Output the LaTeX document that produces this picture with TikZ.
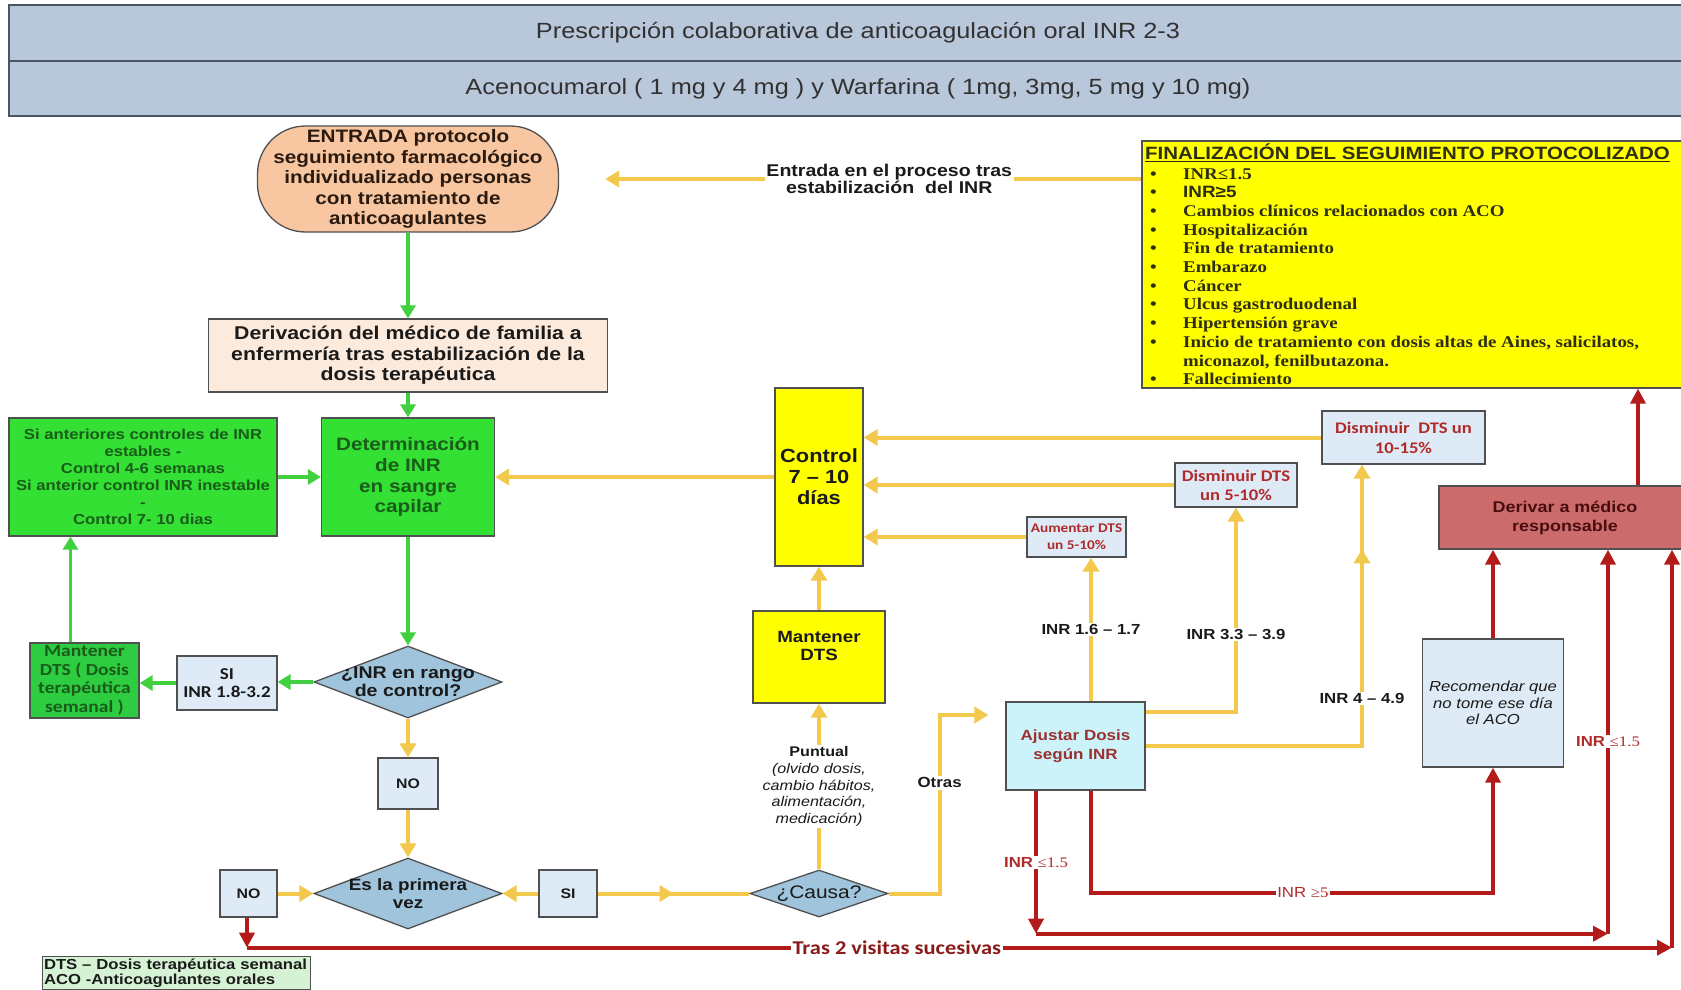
\documentclass[tikz,border=0pt]{standalone}
\usepackage{fontspec}
\setmainfont[FakeStretch=1.15]{Liberation Sans}
\newfontfamily\tnr[FakeStretch=1.15]{Liberation Serif}
\newfontfamily\clb[FakeStretch=1.15]{Carlito}
\usetikzlibrary{shapes.geometric,arrows.meta,calc,decorations.markings}
\newcommand\myfs[2]{\fontsize{#1}{#2}\selectfont}
\newcommand\blt{\makebox[33pt][l]{\textbullet}}
\definecolor{hdrfill}{HTML}{B9C7DB}
\definecolor{hdrb}{HTML}{4A5566}
\definecolor{peach}{HTML}{F8C6A0}
\definecolor{ovaltxt}{HTML}{2A1A10}
\definecolor{trastxt}{HTML}{8B1A1A}
\definecolor{derivfill}{HTML}{FCEADC}
\definecolor{grnbox}{HTML}{33E033}
\definecolor{grnbox2}{HTML}{2ECC40}
\definecolor{dkgrn}{HTML}{1A5C1A}
\definecolor{diafill}{HTML}{A0C4DC}
\definecolor{lblue}{HTML}{DEEBF7}
\definecolor{cyanbox}{HTML}{CDF3FA}
\definecolor{redbox}{HTML}{CC6B6B}
\definecolor{dkred}{HTML}{4A0D0D}
\definecolor{ylw}{HTML}{F2C94C}
\definecolor{grn}{HTML}{40D040}
\definecolor{redl}{HTML}{B31B1B}
\definecolor{redt}{HTML}{B02A2A}
\definecolor{ajred}{HTML}{9B3030}
\definecolor{lgrn}{HTML}{D5F2D5}
\definecolor{ybox}{HTML}{FFFF00}
\definecolor{bord}{HTML}{505050}
\definecolor{txt}{HTML}{1A1A1A}
\definecolor{listtxt}{HTML}{2E2E12}
\begin{document}
\begin{tikzpicture}[x=1pt, y=-1pt,
 bx/.style={draw=bord, line width=1.3pt, inner sep=2pt, align=center, text=txt},
 wh/.style 2 args={minimum width=#1pt, minimum height=#2pt},
 dia/.style={diamond, draw=bord, line width=1.3pt, fill=diafill, inner sep=0pt},
 yl/.style={color=ylw, line width=4pt, -{Triangle[length=14pt,width=16pt]}},
 yline/.style={color=ylw, line width=4pt},
 gl/.style={color=grn, line width=3.5pt, -{Triangle[length=13pt,width=15pt]}},
 rl/.style={color=redl, line width=4pt, -{Triangle[length=15pt,width=15pt]}},
 rline/.style={color=redl, line width=4pt},
 lbl/.style={fill=white, inner sep=1.5pt, text=txt, align=center},
 rlbl/.style={fill=white, inner sep=1.5pt, text=redt, align=center, font=\myfs{14.6}{16}},
 midarr/.style={postaction={decorate}, decoration={markings, mark=at position #1 with {\arrow{Triangle[length=14pt,width=16pt]}}}}
]
\useasboundingbox (0,0) rectangle (1681,989);
\fill[white] (0,0) rectangle (1681,989);

% header
\node[bx, draw=hdrb, line width=2pt, fill=hdrfill, wh={1698}{56}, font=\myfs{22}{24}, text=txt!90] (h1) at (858,33) {Prescripción colaborativa de anticoagulación oral INR 2-3};
\node[bx, draw=hdrb, line width=2pt, fill=hdrfill, wh={1698}{55}, font=\myfs{22}{24}, text=txt!90] (h2) at (858,88.5) {Acenocumarol ( 1 mg y 4 mg ) y Warfarina ( 1mg, 3mg, 5 mg y 10 mg)};

% main nodes
\node[bx, fill=peach, rounded corners=48pt, wh={301}{106}, font=\bfseries\myfs{18}{20.6}, text=ovaltxt] (oval) at (408,179) {ENTRADA protocolo\\seguimiento farmacológico\\individualizado personas\\con tratamiento de\\anticoagulantes};
\node[bx, fill=derivfill, wh={399}{73}, font=\bfseries\myfs{18.5}{20.4}] (deriv) at (408,355.5) {Derivación del médico de familia a\\enfermería tras estabilización de la\\dosis terapéutica};
\node[bx, fill=grnbox, wh={268}{118}, font=\bfseries\myfs{14.5}{17}, text=dkgrn] (leftg) at (143,477) {Si anteriores controles de INR\\estables -\\Control 4-6 semanas\\Si anterior control INR inestable\\-\\Control 7- 10 dias};
\node[bx, fill=grnbox, wh={173}{118}, font=\bfseries\myfs{18}{20.7}, text=dkgrn] (determ) at (408,477) {Determinación\\de INR\\en sangre\\capilar};
\node[bx, fill=ybox, wh={88}{178}, font=\bfseries\myfs{19}{21}] (control) at (819,477) {Control\\7 – 10\\días};
\node[bx, fill=lblue, wh={99}{40}, font=\clb\bfseries\myfs{13.3}{17}, text=redt] (aum) at (1076.5,537) {Aumentar DTS\\un 5-10\%};
\node[bx, fill=lblue, wh={122}{44}, font=\clb\bfseries\myfs{16.2}{19}, text=redt] (dis1) at (1236,485) {Disminuir DTS\\un 5-10\%};
\node[bx, fill=lblue, wh={163}{53}, font=\clb\bfseries\myfs{16.2}{20}, text=redt] (dis2) at (1403.5,437.5) {Disminuir\ \ DTS un\\10-15\%};
\node[bx, fill=redbox, wh={252}{63}, font=\bfseries\myfs{15.6}{19}, text=dkred] (derivar) at (1565,517.5) {Derivar a médico\\responsable};
\node[bx, fill=ybox, wh={558}{247}] (fin) at (1421,264.5) {};
\node[anchor=west, inner sep=0pt, font=\bfseries\myfs{17.8}{20}, text=listtxt] (fintit) at (1145,153) {\underline{FINALIZACIÓN DEL SEGUIMIENTO PROTOCOLIZADO}};
\node[anchor=north west, inner sep=0pt, align=left, text=listtxt, font=\tnr\bfseries\myfs{16.4}{18.7}] (finl) at (1150,168) {%
\blt INR≤1.5\\
\blt {\sffamily\fontspec[FakeStretch=1.15]{Liberation Sans}INR≥5}\\
\blt Cambios clínicos relacionados con ACO\\
\blt Hospitalización\\
\blt Fin de tratamiento\\
\blt Embarazo\\
\blt Cáncer\\
\blt Ulcus gastroduodenal\\
\blt Hipertensión grave\\
\blt Inicio de tratamiento con dosis altas de Aines, salicilatos,\\
\hspace*{33pt}miconazol, fenilbutazona.\\
\blt Fallecimiento};

\node[bx, fill=ybox, wh={132}{92}, label={[align=center, text=txt, font=\bfseries\myfs{16.3}{18}, yshift=11pt]center:Mantener\\DTS}] (manty) at (819,657) {};
\node[dia, wh={138}{47}, label={[text=txt, font=\myfs{18.2}{21}]center:¿Causa?}] (causa) at (819,893.5) {};
\node[bx, fill=cyanbox, wh={139}{88}, font=\bfseries\myfs{14.8}{19.3}, text=ajred] (ajus) at (1075.5,746) {Ajustar Dosis\\según INR};
\node[bx, fill=lblue, wh={141}{128}, font=\itshape\myfs{14.5}{16.5}] (recom) at (1493,703) {Recomendar que\\no tome ese día\\el ACO};

\node[dia, wh={188}{72}, label={[align=center, text=txt, font=\bfseries\myfs{17}{18}]center:¿INR en rango\\de control?}] (dia1) at (408,682) {};
\node[bx, fill=lblue, wh={100}{54}, font=\clb\bfseries\myfs{16.6}{18.5}] (si1) at (227,683) {SI\\INR 1.8-3.2};
\node[bx, fill=grnbox2, wh={109}{75}, inner sep=0pt, font=\clb\bfseries\myfs{17}{18.5}, text=dkgrn] (mantg) at (84.5,680.5) {Mantener\\DTS ( Dosis\\terapéutica\\semanal )};
\node[bx, fill=lblue, wh={60}{51}, font=\bfseries\myfs{13.8}{15}] (no1) at (408,783.5) {NO};
\node[dia, wh={188}{71}, label={[align=center, text=txt, font=\bfseries\myfs{16.4}{18}]center:Es la primera\\vez}] (dia2) at (408,893.5) {};
\node[bx, fill=lblue, wh={57}{47}, font=\bfseries\myfs{13.8}{15}] (no2) at (248.5,893.5) {NO};
\node[bx, fill=lblue, wh={58}{47}, font=\bfseries\myfs{13.8}{15}] (si2) at (568,893.5) {SI};
\node[draw=bord, line width=1pt, fill=lgrn, text width=264pt, inner sep=2pt, minimum height=32pt, align=left, font=\bfseries\myfs{14.5}{15}, text=txt] (leg) at (176,973) {DTS – Dosis terapéutica semanal\\ACO -Anticoagulantes orales};

% green connectors
\draw[gl] (oval.south) -- (deriv.north);
\draw[gl] (deriv.south) -- (determ.north);
\draw[gl] (leftg.east) -- (determ.west);
\draw[gl] (determ.south) -- (dia1.north);
\draw[gl] (dia1.west) -- (dia1.west -| si1.east);
\draw[gl] (si1.west) -- (si1.west -| mantg.east);
\coordinate (mgt) at ($(mantg.north)+(-14,0)$);
\draw[gl] (mgt) -- (mgt |- leftg.south);

% yellow connectors
\draw[yl, shorten >=46pt] (oval.east -| fin.west) -- node[lbl, pos=0.433, font=\bfseries\myfs{17}{17.5}]{Entrada en el proceso tras\\estabilización\ \ del INR} (oval.east);
\draw[yl] (control.west) -- (determ.east);
\draw[yl] (dia1.south) -- (no1.north);
\draw[yl] (no1.south) -- (dia2.north);
\draw[yl] (no2.east) -- (dia2.west);
\draw[yl] (si2.west) -- (dia2.east);
\draw[yline, midarr=0.5] (si2.east) -- (causa.west);
\draw[yl] (causa.north) -- node[lbl, pos=0.5, font=\myfs{14}{16.6}]{\textbf{Puntual}\\\textit{(olvido dosis,}\\\textit{cambio hábitos,}\\\textit{alimentación,}\\\textit{medicación)}} (manty.south);
\coordinate (ot1) at ($(causa.east)+(51,0)$);
\coordinate (ajin) at ($(ajus.west)+(0,-31)$);
\draw[yl, shorten >=17pt] (causa.east) -- (ot1) -- node[lbl, pos=0.62, font=\bfseries\myfs{14.7}{16}]{Otras} (ot1 |- ajin) -- (ajin);
\draw[yl] (manty.north) -- (control.south);
\coordinate (a0) at ($(ajus.north)+(15.5,0)$);
\draw[yl] (a0) -- node[lbl, pos=0.5, font=\bfseries\myfs{14.6}{16}]{INR 1.6 – 1.7} (a0 |- aum.south);
\coordinate (a1) at ($(ajus.north east)+(0,11)$);
\draw[yl] (a1) -- (a1 -| dis1.south) -- node[lbl, pos=0.38, font=\bfseries\myfs{14.6}{16}]{INR 3.3 – 3.9} (dis1.south);
\coordinate (a2c) at ($(dis2.south)+(-41.5,0)$);
\draw[yl, midarr=0.83] (ajus.east) -- (ajus.east -| a2c) -- node[lbl, pos=0.17, font=\bfseries\myfs{14.6}{16}]{INR 4 – 4.9} (a2c);
\draw[yl] (dis2.west) -- (dis2.west -| control.east);
\draw[yl] (dis1.west) -- (dis1.west -| control.east);
\draw[yl] (aum.west) -- (aum.west -| control.east);

% red connectors
\coordinate (dv) at ($(derivar.north)+(73,0)$);
\draw[rl] (dv) -- (dv |- fin.south);
\coordinate (r0) at ($(ajus.south)+(-39.5,0)$);
\coordinate (r1) at ($(r0)+(0,143)$);
\draw[rl] (r0) -- node[rlbl, pos=0.5]{\textbf{INR} {\tnr ≤1.5}} (r1);
\coordinate (r2) at ($(derivar.south)+(43,0)$);
\draw[rl] (r1) -- (r1 -| r2);
\draw[rl] (r1 -| r2) -- node[rlbl, pos=0.5]{\textbf{INR} {\tnr ≤1.5}} (r2);
\coordinate (g0) at ($(ajus.south)+(15.5,0)$);
\coordinate (g1) at ($(g0)+(0,102)$);
\draw[rl] (g0) -- (g1) -- node[rlbl, pos=0.527]{INR {\tnr ≥5}} (g1 -| recom.south) -- (recom.south);
\draw[rl] (recom.north) -- (recom.north |- derivar.south);
\coordinate (t1) at ($(no2.south)+(-1.5,30)$);
\coordinate (t2x) at ($(derivar.south)+(107,0)$);
\draw[rl] (no2.south -| t1) -- (t1);
\draw[rl] (t1) -- node[rlbl, pos=0.456, font=\clb\bfseries\myfs{19.5}{21}, text=trastxt]{Tras 2 visitas sucesivas} (t1 -| t2x);
\draw[rl] (t1 -| t2x) -- (t2x);
\end{tikzpicture}
\end{document}
